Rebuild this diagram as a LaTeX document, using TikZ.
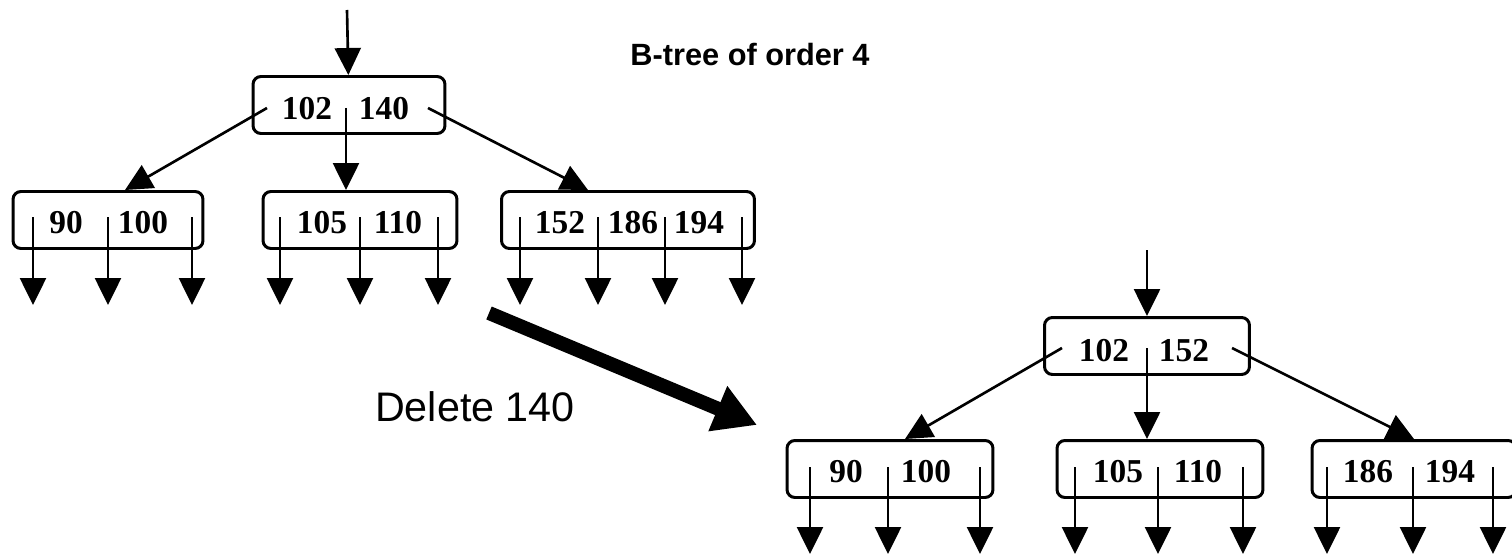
\documentclass[tikz,border=0pt]{standalone}
\usepackage{fontspec}
\setmainfont{Liberation Serif}
\setsansfont{Liberation Sans}
\usepackage{tikz}
\usetikzlibrary{positioning}
\usetikzlibrary{arrows.meta,calc}
\tikzstyle{keybox}=[draw, rounded corners=4.5pt, line width=1.7pt, minimum height=1.14cm, inner sep=0pt]
\tikzstyle{key}=[font=\bfseries\fontsize{19}{19}\selectfont, inner sep=0pt]
\tikzstyle{ptr}=[line width=1.5pt]

\begin{document}
\begin{tikzpicture}[x=0.02cm, y=-0.02cm, >={Triangle[length=0.54cm,width=0.52cm]}]

   \useasboundingbox (0,0) rectangle (1512,554);

% tree before the deletion
   \node[keybox, minimum width=3.84cm] (root) at (349,105) {};
    \foreach \pos/\name/\w in {{(108,220)/left/3.8cm}, {(360,220)/mid/3.88cm}, {(628,220)/right/5.06cm}}
        \node[keybox, minimum width=\w] (\name) at \pos {};

    \foreach \pos/\k [count=\i] in {{(307,109)/102}, {(384,109)/140}, {(66,223)/90}, {(143,223)/100}, {(322,223)/105}, {(398,223)/110}, {(560,223)/152}, {(633,223)/186}, {(699,223)/194}}
        \node[key] (key\i) at \pos {\k};

   \coordinate (in1) at (347,10);
   \coordinate (root0) at (267,108);
   \coordinate (root1) at (346,108);
   \coordinate (root2) at (428,108);
\draw[ptr,->] (in1) -- (root);
\draw[ptr,->] (root0) -- ([xshift=0.34cm]left.north);
\draw[ptr,->] (root1) -- (root1 |- mid.north);
\draw[ptr,->] (root2) -- ([xshift=-0.8cm]right.north);

    \foreach \x in {33,108,192,280,360,438,520,598,665,742} {
        \coordinate (s\x) at (\x,217);
        \coordinate (e\x) at (\x,305);
        \draw[ptr,->] (s\x) -- (e\x);
    }

% the deletion
   \coordinate (delA) at (489,313);
   \coordinate (delB) at (757,425);
\draw[line width=0.28cm, -{Triangle[length=0.85cm,width=0.92cm]}] (delA) -- (delB);
 \node[font=\sffamily\fontsize{23.5}{23.5}\selectfont] (dellabel) at (475,407) {Delete 140};

 \node[font=\sffamily\bfseries\fontsize{17.5}{17.5}\selectfont] (title) at (750,55) {B-tree of order 4};

% tree after the deletion
   \node[keybox, minimum width=4.1cm] (nroot) at (1147,346) {};
    \foreach \pos/\name/\w in {{(890,469)/nleft/4.12cm}, {(1160,469)/nmid/4.12cm}, {(1414,469)/nright/4.08cm}}
        \node[keybox, minimum width=\w] (\name) at \pos {};

    \foreach \pos/\k [count=\i] in {{(1104,351)/102}, {(1184,351)/152}, {(846,472)/90}, {(926,472)/100}, {(1118,472)/105}, {(1198,472)/110}, {(1368,472)/186}, {(1450,472)/194}}
        \node[key] (nkey\i) at \pos {\k};

   \coordinate (in2) at (1147,250);
   \coordinate (nroot0) at (1062,348);
   \coordinate (nroot1) at (1147,348);
   \coordinate (nroot2) at (1232,348);
\draw[ptr,->] (in2) -- (nroot);
\draw[ptr,->] (nroot0) -- ([xshift=0.3cm]nleft.north);
\draw[ptr,->] (nroot1) -- (nroot1 |- nmid.north);
\draw[ptr,->] (nroot2) -- (nright.north);

    \foreach \x in {810,888,980,1075,1158,1243,1327,1413,1493} {
        \coordinate (s\x) at (\x,467);
        \coordinate (e\x) at (\x,554);
        \draw[ptr,->] (s\x) -- (e\x);
    }

\end{tikzpicture}
\end{document}
